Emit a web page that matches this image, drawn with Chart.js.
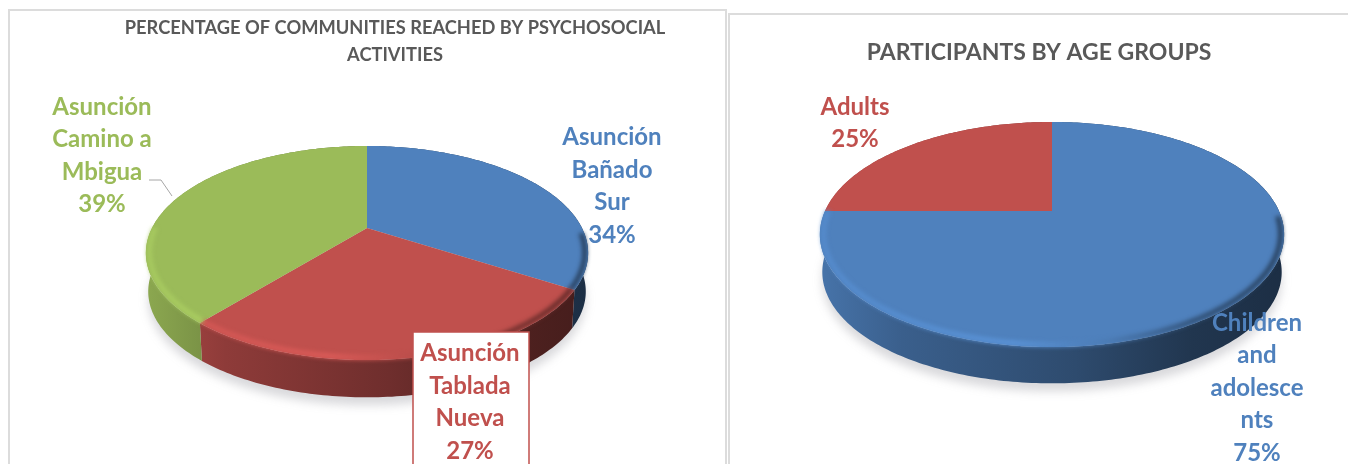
<!DOCTYPE html>
<html><head><meta charset="utf-8">
<script src="https://cdn.jsdelivr.net/npm/chart.js@4"></script>
<style>
html,body{margin:0;padding:0;background:#fff;width:1348px;height:464px;overflow:hidden}
.frame{position:absolute;box-sizing:border-box;border:2px solid #dcdcdc;background:#fff}
canvas{position:absolute;top:0}
</style></head><body>
<div class="frame" style="left:8px;top:9px;width:719px;height:480px"></div>
<div class="frame" style="left:728px;top:13px;width:640px;height:480px"></div>
<canvas id="c1" width="710" height="464" style="left:40px;width:710px;height:464px"></canvas>
<canvas id="c2" width="620" height="464" style="left:729px;width:620px;height:464px"></canvas>
<script>
const communityCategories = ["Asunción Bañado Sur", "Asunción Tablada Nueva", "Asunción Camino a Mbigua"];
const communityValues = [34, 27, 39];
const communityLabelLines = [["Asunción","Bañado","Sur"],["Asunción","Tablada","Nueva"],["Asunción","Camino a","Mbigua"]];
const communityTitle = ["PERCENTAGE OF COMMUNITIES REACHED BY PSYCHOSOCIAL","ACTIVITIES"];
const ageCategories = ["Children and adolescents", "Adults"];
const ageValues = [75, 25];
const ageLabelLines = [["Children","and","adolesce","nts"],["Adults"]];
const ageTitle = "PARTICIPANTS BY AGE GROUPS";
const BLUE="#4F81BD", RED="#C0504D", GREEN="#9BBB59";

function shade(hex,f){
  const n=parseInt(hex.slice(1),16);
  const c=[n>>16,(n>>8)&255,n&255].map(v=>Math.max(0,Math.min(255,Math.round(v*f))));
  return `rgb(${c[0]},${c[1]},${c[2]})`;
}
const pie3d={
  id:'pie3d',
  beforeDatasetsDraw(chart,args,opts){
    const ctx=chart.ctx, arcs=chart.getDatasetMeta(0).data, ds=chart.data.datasets[0];
    const {flatten:fl,tilt:k,depth,shiftX}=opts;
    const a0=arcs[0], R=a0.outerRadius, X=a0.x+shiftX, Y=a0.y;
    const proj=(ang,scale=1,dy=0)=>{
      const u=Math.cos(ang)*scale, v=Math.sin(ang)*scale, d=1-k*v;
      return [X+R*u/d, Y+R*fl*v/d+dy];
    };
    const trace=(from,to,scale,dy,move)=>{
      const n=Math.max(8,Math.ceil(Math.abs(to-from)*60));
      for(let i=0;i<=n;i++){
        const p=proj(from+(to-from)*i/n,scale,dy);
        if(i===0&&move)ctx.moveTo(p[0],p[1]);else ctx.lineTo(p[0],p[1]);
      }
    };
    const left=X-R*1.03, right=X+R*1.03;
    ctx.save();
    // soft ground shadow
    ctx.save();
    ctx.filter='blur(5px)';
    ctx.fillStyle='rgba(110,110,120,0.26)';
    ctx.beginPath();trace(0,Math.PI*2,.99,depth+8,true);ctx.closePath();ctx.fill();
    ctx.restore();
    // side walls
    arcs.forEach((el,i)=>{
      const c=ds.backgroundColor[i];
      const g=ctx.createLinearGradient(left,0,right,0);
      g.addColorStop(0,shade(c,.9));g.addColorStop(.18,shade(c,.74));
      g.addColorStop(.55,shade(c,.58));g.addColorStop(.8,shade(c,.42));g.addColorStop(1,shade(c,.36));
      ctx.fillStyle=g;
      ctx.beginPath();
      trace(el.startAngle,el.endAngle,1,0,true);
      trace(el.endAngle,el.startAngle,.99,depth,false);
      ctx.closePath();ctx.fill();
    });
    // top faces
    arcs.forEach((el,i)=>{
      ctx.fillStyle=ds.backgroundColor[i];
      ctx.beginPath();
      const c=proj(0,0);ctx.moveTo(c[0],c[1]);
      trace(el.startAngle,el.endAngle,1,0,false);
      ctx.closePath();ctx.fill();
    });
    // bevelled rim on the near side
    arcs.forEach((el,i)=>{
      const base=ds.backgroundColor[i];
      const s=((el.startAngle%(2*Math.PI))+2*Math.PI)%(2*Math.PI);
      const e=s+(el.endAngle-el.startAngle);
      [[s,e],[s-2*Math.PI,e-2*Math.PI]].forEach(([p,q])=>{
        const f=Math.max(p,0.05), t=Math.min(q,Math.PI);
        if(t<=f)return;
        const g=ctx.createLinearGradient(left,0,right,0);
        g.addColorStop(0,shade(base,1.08));g.addColorStop(.42,shade(base,1.14));
        g.addColorStop(.62,shade(base,.95));g.addColorStop(.8,shade(base,.62));g.addColorStop(1,shade(base,.5));
        ctx.save();
        ctx.filter='blur(2.2px)';
        ctx.strokeStyle=g;ctx.lineWidth=5;ctx.lineCap='butt';
        ctx.beginPath();trace(f,t,.985,0,true);ctx.stroke();
        ctx.restore();
      });
    });
    ctx.restore();
    return false;
  },
  afterDraw(chart,args,opts){
    const ctx=chart.ctx, ds=chart.data.datasets[0];
    ctx.save();
    (opts.leaders||[]).forEach(l=>{
      ctx.strokeStyle='#a6a6a6';ctx.lineWidth=1;ctx.beginPath();
      l.forEach((p,i)=>i?ctx.lineTo(p[0],p[1]):ctx.moveTo(p[0],p[1]));ctx.stroke();
    });
    (opts.boxes||[]).forEach(b=>{
      ctx.fillStyle='#fff';ctx.strokeStyle=b.color;ctx.lineWidth=1.5;
      ctx.fillRect(b.x,b.y,b.w,b.h);ctx.strokeRect(b.x,b.y,b.w,b.h);
    });
    ctx.font=opts.labelFont;ctx.textAlign='center';ctx.textBaseline='middle';
    opts.labelLines.forEach((lines,i)=>{
      ctx.fillStyle=ds.backgroundColor[i];
      const pos=opts.labelPos[i];
      const all=lines.concat([ds.data[i]+'%']);
      all.forEach((t,j)=>ctx.fillText(t,pos[0],pos[1]+j*opts.labelStep));
    });
    ctx.restore();
  }
};
function makePie(id,cats,vals,colors,title,titleOpts,padding,radius,pieOpts){
  return new Chart(document.getElementById(id),{
    type:'pie',
    data:{labels:cats,datasets:[{data:vals,backgroundColor:colors,radius:radius,borderWidth:0}]},
    plugins:[pie3d],
    options:{
      responsive:false,animation:false,
      layout:{padding},
      plugins:{
        legend:{display:false},tooltip:{enabled:false},
        title:Object.assign({display:true,text:title,color:'#595959',align:'center'},titleOpts),
        pie3d:pieOpts
      }
    }
  });
}
Chart.defaults.font.family='Lato';
makePie('c1',communityCategories,communityValues,[BLUE,RED,GREEN],communityTitle,
  {font:{size:18.3,weight:'bold',lineHeight:1.5},padding:{top:14,bottom:0}},
  {left:0,right:0,top:0,bottom:76.9},215,
  {shiftX:-28,flatten:.4707,tilt:.2336,depth:39,labelFont:'bold 24px Lato',labelStep:32.5,
   labelLines:communityLabelLines,
   labelPos:[[572,137.5],[430,353.5],[62,107]],
   leaders:[[[109,180],[121,180],[132,196]]],
   boxes:[{x:373,y:332,w:116,h:150,color:RED}]});
makePie('c2',ageCategories,ageValues,[BLUE,RED],ageTitle,
  {font:{size:23,weight:'bold',lineHeight:1.3},padding:{top:38,bottom:0}},
  {left:0,right:0,top:0,bottom:109.9},227,
  {shiftX:13,flatten:.4742,tilt:.209,depth:38,labelFont:'bold 24px Lato',labelStep:32.5,
   labelLines:ageLabelLines,
   labelPos:[[528,323],[126,107]]});
</script>
</body></html>
